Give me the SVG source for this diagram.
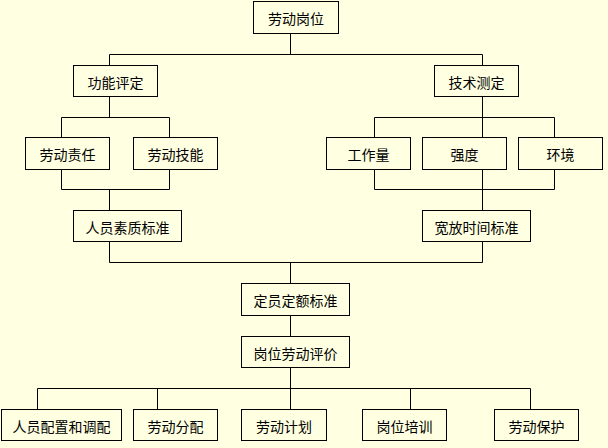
<svg xmlns="http://www.w3.org/2000/svg" width="608" height="448" viewBox="0 0 608 448">
<style>
.n rect{fill:#ffffe1;stroke:#000;stroke-width:1}
.n text{font-family:"Noto Sans CJK SC","Noto Sans",sans-serif;font-size:14px;fill:#000;text-anchor:middle;dominant-baseline:central}
#edges path{fill:none;stroke:#000;stroke-width:1}
</style>
<rect width="608" height="448" fill="#ffffe1"/>
<g id="edges">
<path d="M290.5 33.5V54.5M109.5 54.5H482.5M109.5 54.5V65.5M482.5 54.5V65.5"/>
<path d="M109.5 96.5V117.5M61.5 117.5H169.5M61.5 117.5V137.5M169.5 117.5V137.5"/>
<path d="M61.5 169.5V189.5H169.5V169.5M109.5 189.5V210.5"/>
<path d="M482.5 96.5V117.5M374.5 117.5H554.5M374.5 117.5V137.5M482.5 117.5V137.5M554.5 117.5V137.5"/>
<path d="M374.5 169.5V189.5H554.5V169.5M482.5 169.5V210.5"/>
<path d="M109.5 241.5V262.5H482.5V241.5M290.5 262.5V283.5"/>
<path d="M290.5 315.5V336.5M290.5 367.5V388.5M37.5 388.5H530.5"/>
<path d="M37.5 388.5V409.5M157.5 388.5V409.5M290.5 388.5V409.5M410.5 388.5V409.5M530.5 388.5V409.5"/>
</g>
<g id="n1" class="n"><rect x="253.5" y="1.5" width="85" height="32"/><text x="296" y="18">劳动岗位</text></g>
<g id="n2" class="n"><rect x="73.5" y="65.5" width="84" height="31"/><text x="115.5" y="81.5">功能评定</text></g>
<g id="n3" class="n"><rect x="434.5" y="65.5" width="84" height="31"/><text x="476.5" y="81.5">技术测定</text></g>
<g id="n4" class="n"><rect x="25.5" y="137.5" width="84" height="32"/><text x="67.5" y="154">劳动责任</text></g>
<g id="n5" class="n"><rect x="133.5" y="137.5" width="84" height="32"/><text x="175.5" y="154">劳动技能</text></g>
<g id="n6" class="n"><rect x="326.5" y="137.5" width="84" height="32"/><text x="368.5" y="154">工作量</text></g>
<g id="n7" class="n"><rect x="422.5" y="137.5" width="84" height="32"/><text x="464.5" y="154">强度</text></g>
<g id="n8" class="n"><rect x="518.5" y="137.5" width="84" height="32"/><text x="560.5" y="154">环境</text></g>
<g id="n9" class="n"><rect x="73.5" y="210.5" width="108" height="31"/><text x="127.5" y="226.5">人员素质标准</text></g>
<g id="n10" class="n"><rect x="422.5" y="210.5" width="108" height="31"/><text x="476.5" y="226.5">宽放时间标准</text></g>
<g id="n11" class="n"><rect x="241.5" y="283.5" width="108" height="32"/><text x="295.5" y="300">定员定额标准</text></g>
<g id="n12" class="n"><rect x="241.5" y="336.5" width="108" height="31"/><text x="295.5" y="352.5">岗位劳动评价</text></g>
<g id="n13" class="n"><rect x="1.5" y="409.5" width="120" height="31"/><text x="61.5" y="425.5">人员配置和调配</text></g>
<g id="n14" class="n"><rect x="133.5" y="409.5" width="84" height="31"/><text x="175.5" y="425.5">劳动分配</text></g>
<g id="n15" class="n"><rect x="241.5" y="409.5" width="85" height="31"/><text x="284" y="425.5">劳动计划</text></g>
<g id="n16" class="n"><rect x="362.5" y="409.5" width="84" height="31"/><text x="404.5" y="425.5">岗位培训</text></g>
<g id="n17" class="n"><rect x="494.5" y="409.5" width="84" height="31"/><text x="536.5" y="425.5">劳动保护</text></g>
</svg>
